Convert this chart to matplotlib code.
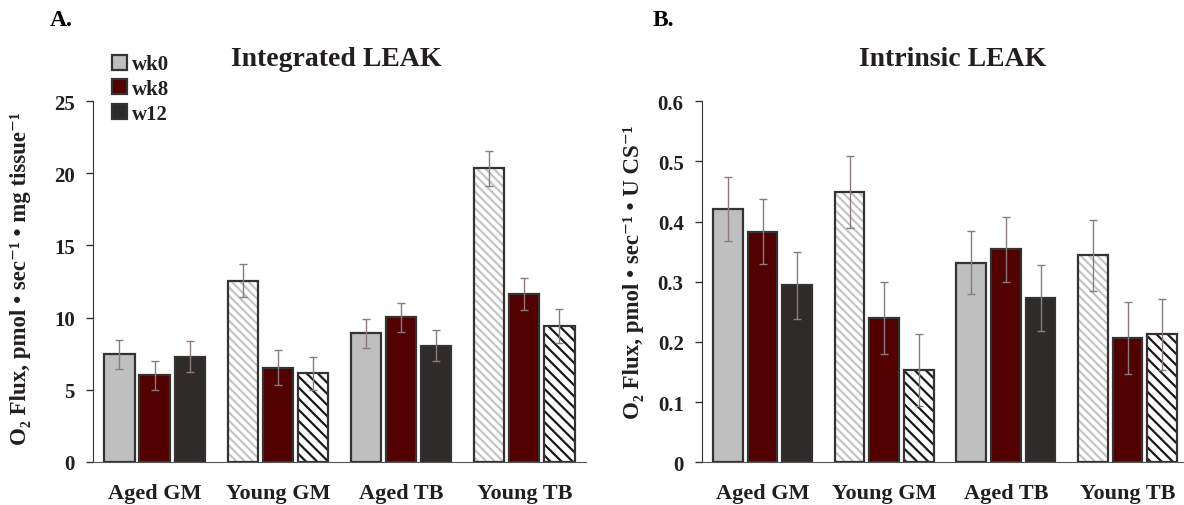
import numpy as np
import matplotlib
matplotlib.use('Agg')
import matplotlib.pyplot as plt
from matplotlib.patches import Patch

plt.rcParams['font.family'] = ['Liberation Serif', 'DejaVu Serif']
plt.rcParams['font.weight'] = 'bold'
plt.rcParams['axes.labelweight'] = 'bold'
plt.rcParams['hatch.linewidth'] = 1.6

# datos de cada panel
groups = ['Aged GM', 'Young GM', 'Aged TB', 'Young TB']
series = ['wk0', 'wk8', 'w12']

leak_int = [[7.45, 12.56, 8.91, 20.33],
            [6.0, 6.53, 10.02, 11.61],
            [7.3, 6.14, 8.06, 9.42]]
leak_int_err = [[1.0, 1.15, 1.0, 1.2],
                [1.0, 1.2, 1.0, 1.1],
                [1.1, 1.15, 1.1, 1.15]]

leak_cs = [[0.421, 0.449, 0.332, 0.344],
           [0.383, 0.240, 0.354, 0.206],
           [0.294, 0.154, 0.273, 0.213]]
leak_cs_err = [[0.054, 0.060, 0.053, 0.059],
               [0.054, 0.060, 0.054, 0.060],
               [0.055, 0.060, 0.055, 0.059]]

colors = ['#bfbfbf', '#520000', '#302b2b']
edge = '#333333'
err_color = '#8a7c7c'
txt = '#231f20'

# las barras "Young" de wk0 y w12 van rayadas
hatched = {0: '#c4c4c4', 2: '#1a1a1a'}
hatch_style = {0: '\\\\\\\\', 2: '\\\\\\'}


def draw_panel(ax, vals, errs, ymax, step, fmt):
    x = np.arange(len(groups))
    off = [-0.285, 0.0, 0.285]
    w = 0.245
    for i in range(3):
        for j, g in enumerate(groups):
            xi = x[j] + off[i]
            if g.startswith('Young') and i in hatched:
                ax.bar(xi, vals[i][j], w, color='white', edgecolor=hatched[i],
                       hatch=hatch_style[i], linewidth=0, zorder=2)
                ax.bar(xi, vals[i][j], w, color='none', edgecolor=edge,
                       linewidth=1.6, zorder=3)
            else:
                ax.bar(xi, vals[i][j], w, color=colors[i], edgecolor=edge,
                       linewidth=1.6, zorder=3)
        ax.errorbar(x + off[i], vals[i], yerr=errs[i], fmt='none',
                    ecolor=err_color, elinewidth=1.0, capsize=2.8,
                    capthick=1.0, zorder=4)
    ax.set_xlim(-0.5, len(groups) - 0.5)
    ax.set_ylim(0, ymax)
    ticks = np.arange(0, ymax + step / 2, step)
    ax.set_yticks(ticks)
    ax.set_yticklabels([fmt(v) for v in ticks])
    ax.set_xticks(x)
    ax.set_xticklabels(groups)
    ax.tick_params(axis='x', length=0, pad=15, labelsize=16, labelcolor=txt)
    ax.tick_params(axis='y', length=5, width=1, color='#333333', pad=8,
                   labelsize=15, labelcolor=txt)
    for s in ['top', 'right']:
        ax.spines[s].set_visible(False)
    ax.spines['left'].set_color('#333333')
    ax.spines['bottom'].set_color('#555555')


fig = plt.figure(figsize=(11.84, 5.06), dpi=100)
axA = fig.add_axes([0.0785, 0.085, 0.4164, 0.7134])
axB = fig.add_axes([0.5927, 0.0844, 0.411, 0.7134])

draw_panel(axA, leak_int, leak_int_err, 25, 5, lambda v: f'{v:.0f}')
draw_panel(axB, leak_cs, leak_cs_err, 0.6, 0.1,
           lambda v: '0' if v == 0 else f'{v:.1f}')

axA.set_ylabel('O₂ Flux, pmol • sec⁻¹ • mg tissue⁻¹', fontsize=16.5,
               fontweight='bold', color=txt)
axA.yaxis.set_label_coords(-0.125, 0.51)
axB.set_ylabel('O₂ Flux, pmol • sec⁻¹ • U CS⁻¹', fontsize=16.5,
               fontweight='bold', color=txt)
axB.yaxis.set_label_coords(-0.118, 0.53)

fig.text(336 / 1184, 1 - 60 / 506, 'Integrated LEAK', fontsize=20,
         ha='center', va='center', color=txt)
fig.text(953 / 1184, 1 - 60 / 506, 'Intrinsic LEAK', fontsize=20,
         ha='center', va='center', color=txt)
fig.text(50 / 1184, 1 - 20 / 506, 'A.', fontsize=17, ha='left',
         va='center', color='black')
fig.text(653 / 1184, 1 - 20 / 506, 'B.', fontsize=17, ha='left',
         va='center', color='black')

handles = [Patch(facecolor=c, edgecolor=edge, linewidth=1.6) for c in colors]
fig.legend(handles, series, loc='upper left',
           bbox_to_anchor=(102 / 1184, 1 - 45 / 506), frameon=False,
           fontsize=15, handlelength=0.72, handleheight=0.72,
           handletextpad=0.2, labelspacing=0.22, borderpad=0,
           labelcolor=txt)

fig.savefig('out.png', dpi=100)
